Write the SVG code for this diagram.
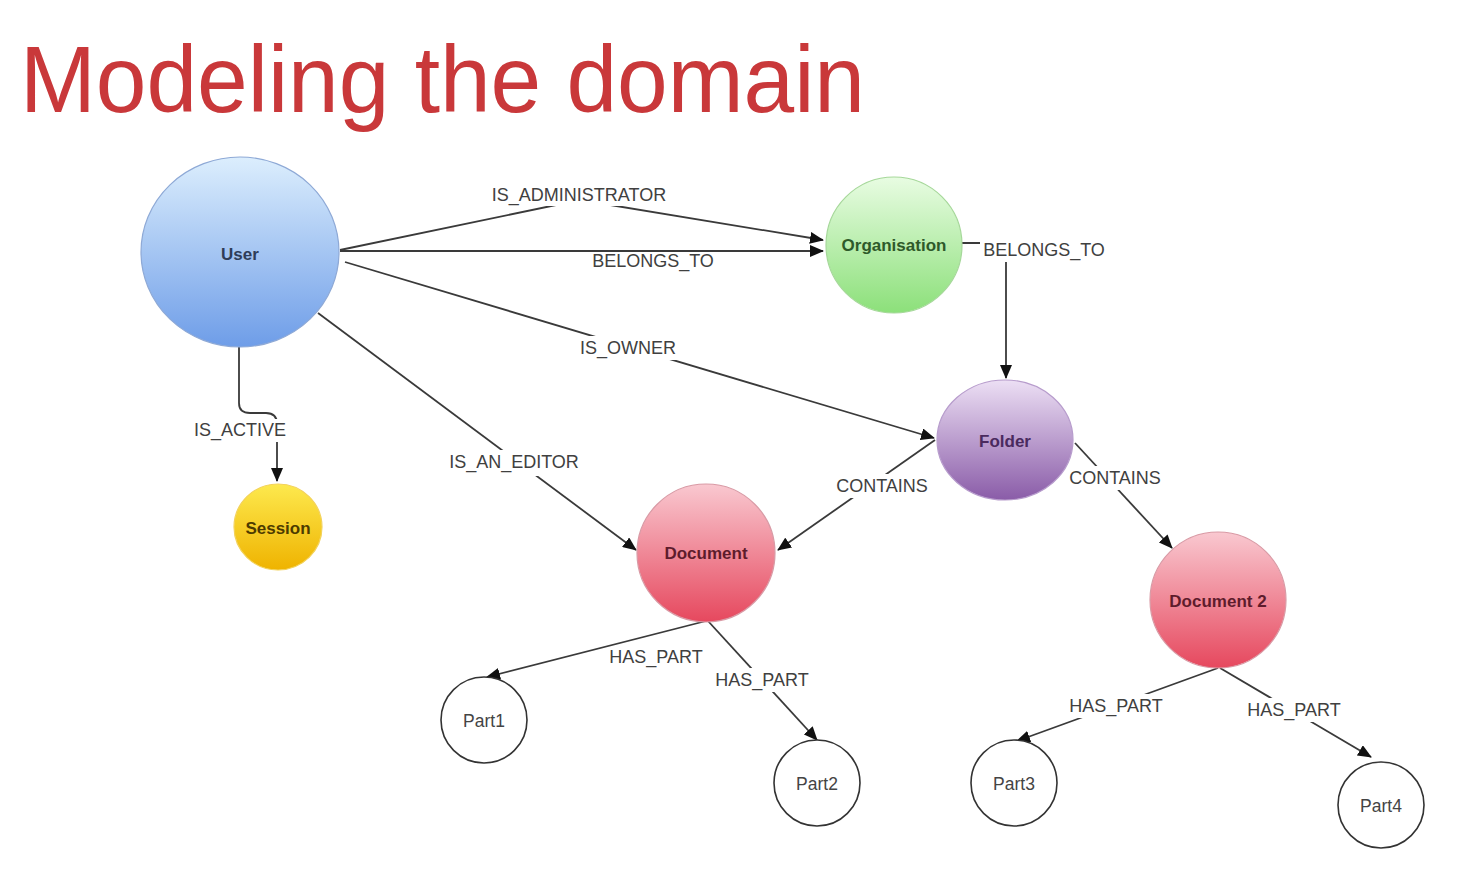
<svg xmlns="http://www.w3.org/2000/svg" width="1470" height="872" viewBox="0 0 1470 872">
<style>
.edge{fill:none;stroke:#3a3a3a;stroke-width:1.8}
.lbl{font-family:"Liberation Sans",Arial,sans-serif;font-size:18px;fill:#404040;text-anchor:middle;dominant-baseline:central}
.bg{fill:#ffffff}
.nt{font-family:"Liberation Sans",Arial,sans-serif;font-size:17px;font-weight:bold;text-anchor:middle;dominant-baseline:central}
.part{fill:#ffffff;stroke:#333;stroke-width:1.6}
.pt{font-family:"Liberation Sans",Arial,sans-serif;font-size:17.5px;fill:#444;text-anchor:middle;dominant-baseline:central}
</style>
<defs>
<marker id="arr" markerUnits="userSpaceOnUse" markerWidth="14" markerHeight="12" refX="13" refY="6" orient="auto">
<path d="M0,0 L14,6 L0,12 z" fill="#111"/>
</marker>
<linearGradient id="gUser" x1="0" y1="0" x2="0" y2="1"><stop offset="0" stop-color="#dceefd"/><stop offset="1" stop-color="#6e9de8"/></linearGradient>
<linearGradient id="gOrg" x1="0" y1="0" x2="0" y2="1"><stop offset="0" stop-color="#e8fce2"/><stop offset="1" stop-color="#8ce07a"/></linearGradient>
<linearGradient id="gFolder" x1="0" y1="0" x2="0" y2="1"><stop offset="0" stop-color="#ecdff4"/><stop offset="1" stop-color="#8a5ca8"/></linearGradient>
<linearGradient id="gSession" x1="0" y1="0" x2="0" y2="1"><stop offset="0" stop-color="#fde94e"/><stop offset="1" stop-color="#efb300"/></linearGradient>
<linearGradient id="gDoc" x1="0" y1="0" x2="0" y2="1"><stop offset="0" stop-color="#f9c8d0"/><stop offset="1" stop-color="#e6485e"/></linearGradient>
</defs>
<rect width="1470" height="872" fill="#ffffff"/>
<text x="20" y="112" font-family="Liberation Sans,Arial,sans-serif" font-size="94" fill="#c9383a" textLength="845" lengthAdjust="spacingAndGlyphs">Modeling the domain</text>

<g id="connectors">
<path class="edge" d="M340,250 L580,200 L823,240" marker-end="url(#arr)"/>
<rect class="bg" x="484" y="184" width="190" height="22"/>
<text class="lbl" x="579" y="195">IS_ADMINISTRATOR</text>

<path class="edge" d="M340,251 L823,251" marker-end="url(#arr)"/>
<rect class="bg" x="589" y="252" width="130" height="20"/>
<text class="lbl" x="653" y="261">BELONGS_TO</text>

<path class="edge" d="M345,262 L934,438" marker-end="url(#arr)"/>
<rect class="bg" x="574" y="336" width="110" height="24"/>
<text class="lbl" x="628" y="348">IS_OWNER</text>

<path class="edge" d="M318,313 L636,550" marker-end="url(#arr)"/>
<rect class="bg" x="444" y="450" width="142" height="26"/>
<text class="lbl" x="514" y="462">IS_AN_EDITOR</text>

<path class="edge" d="M239,347 L239,403 Q239,413 250,413 L266,413 Q277,413 277,424 L277,481" marker-end="url(#arr)"/>
<rect class="bg" x="188" y="419" width="104" height="23"/>
<text class="lbl" x="240" y="430">IS_ACTIVE</text>

<path class="edge" d="M962,243 L1006,243 L1006,378" marker-end="url(#arr)"/>
<rect class="bg" x="980" y="238" width="132" height="24"/>
<text class="lbl" x="1044" y="250">BELONGS_TO</text>

<path class="edge" d="M935,440 L778,550" marker-end="url(#arr)"/>
<rect class="bg" x="832" y="474" width="102" height="24"/>
<text class="lbl" x="882" y="486">CONTAINS</text>

<path class="edge" d="M1075,443 L1172,548" marker-end="url(#arr)"/>
<rect class="bg" x="1065" y="466" width="102" height="24"/>
<text class="lbl" x="1115" y="478">CONTAINS</text>

<path class="edge" d="M706,621 L487,677" marker-end="url(#arr)"/>
<text class="lbl" x="656" y="657">HAS_PART</text>

<path class="edge" d="M708,621 L817,740" marker-end="url(#arr)"/>
<rect class="bg" x="710" y="668" width="104" height="24"/>
<text class="lbl" x="762" y="680">HAS_PART</text>

<path class="edge" d="M1218,668 L1017,741" marker-end="url(#arr)"/>
<rect class="bg" x="1064" y="694" width="104" height="24"/>
<text class="lbl" x="1116" y="706">HAS_PART</text>

<path class="edge" d="M1220,668 L1371,757" marker-end="url(#arr)"/>
<rect class="bg" x="1242" y="698" width="106" height="24"/>
<text class="lbl" x="1294" y="710">HAS_PART</text>
</g>

<g id="user"><ellipse cx="240" cy="252" rx="99" ry="95" fill="url(#gUser)" stroke="#8ea9d6" stroke-width="1.2"/><text class="nt" x="240" y="254" fill="#2f3d58">User</text></g>
<g id="organisation"><circle cx="894" cy="245" r="68" fill="url(#gOrg)" stroke="#a6d89a" stroke-width="1.2"/><text class="nt" x="894" y="245" fill="#2e5a2a">Organisation</text></g>
<g id="folder"><ellipse cx="1005" cy="440" rx="68" ry="60" fill="url(#gFolder)" stroke="#b79ccc" stroke-width="1.2"/><text class="nt" x="1005" y="441" fill="#4a2a5e">Folder</text></g>
<g id="session"><ellipse cx="278" cy="527" rx="44" ry="43" fill="url(#gSession)" stroke="#f3d25a" stroke-width="1.2"/><text class="nt" x="278" y="528" fill="#4d3b00">Session</text></g>
<g id="document"><circle cx="706" cy="553" r="69" fill="url(#gDoc)" stroke="#d99aa5" stroke-width="1.2"/><text class="nt" x="706" y="553" fill="#5e1c2c">Document</text></g>
<g id="document2"><circle cx="1218" cy="600" r="68" fill="url(#gDoc)" stroke="#d99aa5" stroke-width="1.2"/><text class="nt" x="1218" y="601" fill="#5e1c2c">Document 2</text></g>
<g id="part1"><circle class="part" cx="484" cy="720" r="43"/><text class="pt" x="484" y="721">Part1</text></g>
<g id="part2"><circle class="part" cx="817" cy="783" r="43"/><text class="pt" x="817" y="784">Part2</text></g>
<g id="part3"><circle class="part" cx="1014" cy="783" r="43"/><text class="pt" x="1014" y="784">Part3</text></g>
<g id="part4"><circle class="part" cx="1381" cy="805" r="43"/><text class="pt" x="1381" y="806">Part4</text></g>
</svg>
